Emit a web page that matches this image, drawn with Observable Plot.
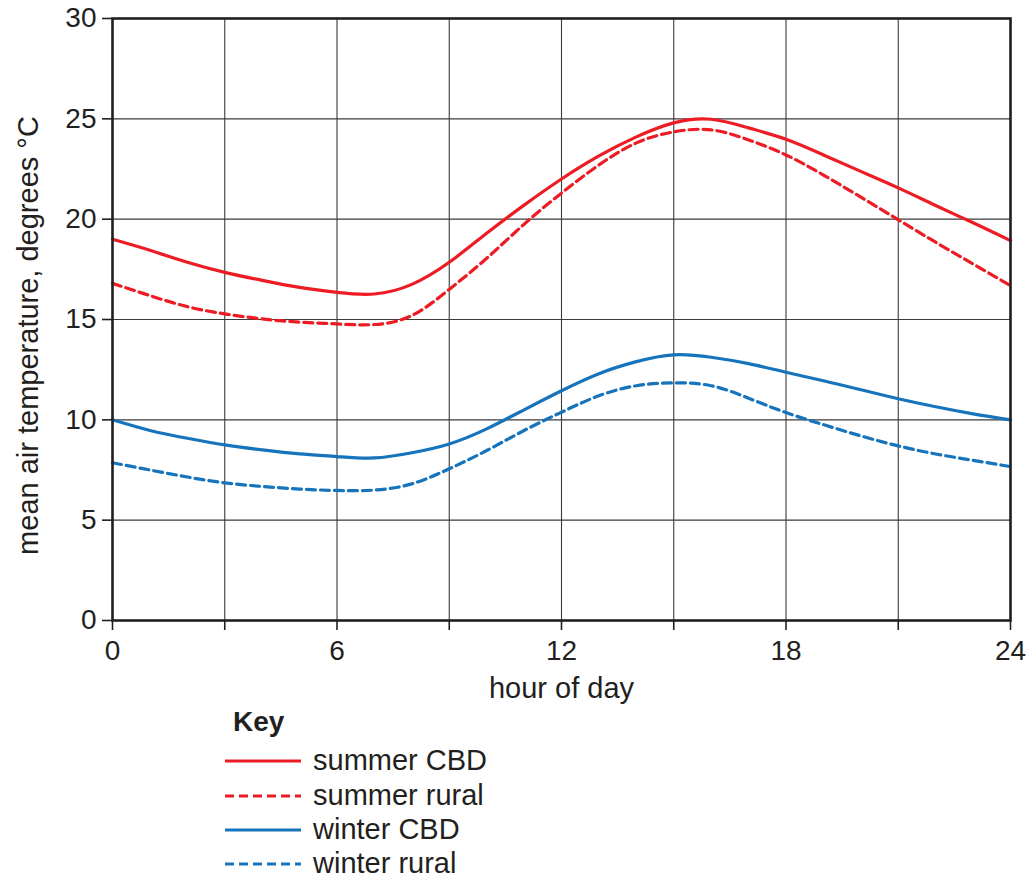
<!DOCTYPE html>
<html>
<head>
<meta charset="utf-8">
<script src="https://cdn.jsdelivr.net/npm/d3@7"></script>
<script src="https://cdn.jsdelivr.net/npm/@observablehq/plot@0.6"></script>
<style>
  body { margin: 0; background: #fff; font-family: "Liberation Sans", Arial, Helvetica, sans-serif; }
  #wrap { position: relative; width: 1034px; height: 882px; }
  #chart svg { display: block; }
  #key { position: absolute; left: 0; top: 690px; }
</style>
</head>
<body>
<div id="wrap">
  <div id="chart"></div>
  <div id="key"></div>
</div>
<script>
// ---- data ----
const hours = [0,1,2,3,4,5,6,7,8,9,10,11,12,13,14,15,16,17,18,19,20,21,22,23,24];
const summerCBD   = [19.0,18.45,17.85,17.35,16.95,16.6,16.35,16.27,16.75,17.85,19.3,20.7,22.0,23.15,24.1,24.8,24.98,24.55,23.98,23.2,22.38,21.56,20.68,19.82,18.93];
const summerRural = [16.8,16.19,15.64,15.28,15.03,14.87,14.78,14.75,15.2,16.5,18.05,19.75,21.3,22.7,23.8,24.35,24.45,23.95,23.2,22.2,21.1,19.97,18.85,17.77,16.69];
const winterCBD   = [10.0,9.47,9.08,8.75,8.5,8.3,8.17,8.1,8.36,8.8,9.55,10.5,11.45,12.3,12.9,13.24,13.12,12.8,12.37,11.95,11.5,11.05,10.65,10.3,10.0];
const winterRural = [7.86,7.5,7.15,6.86,6.68,6.55,6.48,6.5,6.81,7.56,8.47,9.47,10.38,11.2,11.7,11.84,11.7,11.08,10.36,9.76,9.2,8.7,8.3,7.98,7.67];

const seriesNames  = ["summer CBD", "summer rural", "winter CBD", "winter rural"];
const seriesValues = [summerCBD, summerRural, winterCBD, winterRural];
const seriesColors = ["#ed1c24", "#ed1c24", "#1674bc", "#1674bc"];
const seriesDash   = [null, "9,5", null, "9,5"];

const xTicks = [0,3,6,9,12,15,18,21,24];
const xTickLabels = {0: "0", 6: "6", 12: "12", 18: "18", 24: "24"};
const yTicks = [0,5,10,15,20,25,30];

const xLabel = "hour of day";
const yLabel = "mean air temperature, degrees °C";
const keyTitle = "Key";

// ---- build table ----
const rows = seriesNames.map((name, s) =>
  hours.map((h, i) => ({series: name, hour: h, temp: seriesValues[s][i]}))
);

const FONT = '"Liberation Sans", Arial, Helvetica, sans-serif';

const lineMarks = rows.map((data, s) =>
  Plot.line(data, {
    x: "hour", y: "temp",
    stroke: seriesColors[s],
    strokeWidth: 3.2,
    strokeDasharray: seriesDash[s] || undefined,
    curve: "natural"
  })
);

const chart = Plot.plot({
  width: 1034,
  height: 708,
  marginLeft: 112,
  marginRight: 24,
  marginTop: 18,
  marginBottom: 88,
  style: {fontFamily: FONT, fontSize: "28px", color: "#231f20", background: "#fff"},
  x: {domain: [0, 24]},
  y: {domain: [0, 30]},
  marks: [
    Plot.gridX(xTicks, {stroke: "#3a3a3a", strokeOpacity: 1, strokeWidth: 1.1}),
    Plot.gridY(yTicks, {stroke: "#3a3a3a", strokeOpacity: 1, strokeWidth: 1.1}),
    ...lineMarks,
    Plot.frame({stroke: "#231f20", strokeWidth: 2.6}),
    Plot.axisX(xTicks, {
      tickSize: 10, tickPadding: 10, strokeWidth: 1.6, stroke: "#231f20",
      tickFormat: d => xTickLabels[d] ?? "",
      fontSize: 28, fill: "#231f20", label: null
    }),
    Plot.axisY(yTicks, {
      tickSize: 10, tickPadding: 6, strokeWidth: 1.6, stroke: "#231f20",
      fontSize: 28, fill: "#231f20", label: null
    }),
    Plot.text([xLabel], {
      frameAnchor: "bottom", dy: 57, lineAnchor: "top",
      fontSize: 29, fill: "#231f20"
    }),
    Plot.text([yLabel], {
      frameAnchor: "left", rotate: -90, dx: -84, dy: 16,
      textAnchor: "middle", lineAnchor: "middle",
      fontSize: 29, fill: "#231f20"
    })
  ]
});
document.getElementById("chart").appendChild(chart);

// ---- key (below the chart) ----
const key = d3.select("#key").append("svg")
  .attr("width", 1034).attr("height", 192)
  .style("font-family", FONT);

key.append("text")
  .attr("x", 233).attr("y", 41)
  .attr("font-size", 28).attr("font-weight", "bold").attr("fill", "#231f20")
  .text(keyTitle);

const rowY = [71, 106, 140, 174];
seriesNames.forEach((name, s) => {
  const g = key.append("g").attr("transform", `translate(0,${rowY[s]})`);
  g.append("line")
    .attr("x1", 225).attr("x2", 301).attr("y1", 0).attr("y2", 0)
    .attr("stroke", seriesColors[s]).attr("stroke-width", 3.2)
    .attr("stroke-dasharray", seriesDash[s]);
  g.append("text")
    .attr("x", 313).attr("y", 9)
    .attr("font-size", 29).attr("fill", "#231f20")
    .text(name);
});
</script>
</body>
</html>
